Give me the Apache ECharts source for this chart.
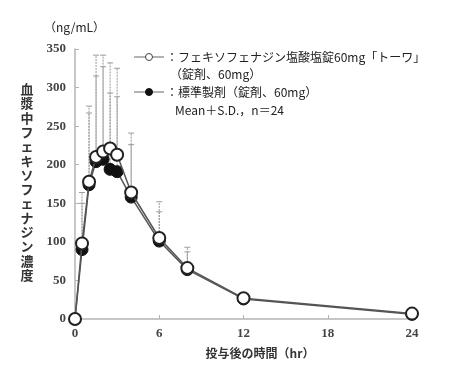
<!DOCTYPE html>
<html><head><meta charset="utf-8">
<script src="https://cdn.jsdelivr.net/npm/echarts@6/dist/echarts.min.js"></script>
<style>html,body{margin:0;padding:0;background:#fff}#c{width:471px;height:371px}</style>
</head><body><div id="c"></div>
<script>
const times    = [0, 0.5, 1, 1.5, 2, 2.5, 3, 4, 6, 8, 12, 24];
const testMean = [0, 98, 178, 210, 217, 221, 213, 164, 105, 66, 27, 7];
const testSD   = [0, 66, 98, 132, 125, 111, 112, 77, 47, 27, 0, 0];
const refMean  = [0, 90, 174, 204, 207, 194, 191, 158, 101, 64, 26, 6];
const refSD    = [0, 60, 93, 111, 120, 99, 97, 68, 38, 23, 0, 0];
const xTicks = [0, 6, 12, 18, 24];
const yTicks = [0, 50, 100, 150, 200, 250, 300, 350];

const jp = '"Noto Sans CJK JP", sans-serif';
const serif = '"Liberation Serif", "DejaVu Serif", serif';

function errData(m, s) { return times.map((t, i) => [t, m[i], s[i]]); }
function errRender(params, api) {
  const x = api.value(0), m = api.value(1), s = api.value(2);
  if (!s) return null;
  const p0 = api.coord([x, m]);
  const p1 = api.coord([x, m + s]);
  const st = { stroke: '#9a9a9a', lineWidth: 1, lineDash: [2, 1] };
  return { type: 'group', children: [
    { type: 'line', shape: { x1: p0[0], y1: p0[1], x2: p1[0], y2: p1[1] }, style: st },
    { type: 'line', shape: { x1: p1[0] - 3, y1: p1[1], x2: p1[0] + 3, y2: p1[1] }, style: { stroke: '#9a9a9a', lineWidth: 1 } }
  ]};
}

const chart = echarts.init(document.getElementById('c'));
chart.setOption({
  animation: false,
  grid: { left: 75, right: 59, top: 49, bottom: 52 },
  xAxis: {
    type: 'value', min: 0, max: 24, interval: 6,
    axisLine: { lineStyle: { color: '#b5b5b5', width: 1.5 } },
    axisTick: { inside: true, length: 4, lineStyle: { color: '#b5b5b5' } },
    axisLabel: { fontFamily: serif, fontSize: 13, fontWeight: 'bold', color: '#444', margin: 8,
      customValues: xTicks },
    splitLine: { show: false }
  },
  yAxis: {
    type: 'value', min: 0, max: 350, interval: 50,
    axisLine: { show: true, lineStyle: { color: '#b5b5b5', width: 1.5 } },
    axisTick: { show: true, inside: true, length: 4, lineStyle: { color: '#b5b5b5' } },
    axisLabel: { fontFamily: serif, fontSize: 13, fontWeight: 'bold', color: '#444', margin: 9 },
    splitLine: { show: false }
  },
  graphic: [
    { type: 'text', left: 44, top: 21, style: { text: '（ng/mL）', font: '12px ' + jp, fill: '#222' } },
    { type: 'text', x: 27, y: 82, style: { text: '血漿中フェキソフェナジン濃度'.split('').join('\n'), font: 'bold 13px ' + jp, fill: '#333', align: 'center', lineHeight: 14.3 } },
    { type: 'text', x: 260, y: 353, style: { text: '投与後の時間（hr）', font: 'bold 12px ' + jp, fill: '#333', align: 'center', verticalAlign: 'middle' } },
    { type: 'line', shape: { x1: 134, y1: 57, x2: 164, y2: 57 }, style: { stroke: '#666', lineWidth: 1 } },
    { type: 'circle', shape: { cx: 149, cy: 57, r: 3.5 }, style: { fill: '#fff', stroke: '#444', lineWidth: 1 } },
    { type: 'text', x: 166, y: 57, style: { text: '：フェキソフェナジン塩酸塩錠60mg「トーワ」', font: '12px ' + jp, fill: '#222', verticalAlign: 'middle' } },
    { type: 'text', x: 170, y: 74, style: { text: '（錠剤、60mg）', font: '12px ' + jp, fill: '#222', verticalAlign: 'middle' } },
    { type: 'line', shape: { x1: 134, y1: 92, x2: 164, y2: 92 }, style: { stroke: '#666', lineWidth: 1 } },
    { type: 'circle', shape: { cx: 149, cy: 92, r: 3.5 }, style: { fill: '#111', stroke: '#111', lineWidth: 1 } },
    { type: 'text', x: 166, y: 92, style: { text: '：標準製剤（錠剤、60mg）', font: '12px ' + jp, fill: '#222', verticalAlign: 'middle' } },
    { type: 'text', x: 175, y: 110, style: { text: 'Mean＋S.D.，n＝24', font: '12px ' + jp, fill: '#222', verticalAlign: 'middle' } }
  ],
  series: [
    { type: 'custom', renderItem: errRender, data: errData(refMean, refSD), z: 1, silent: true },
    { type: 'custom', renderItem: errRender, data: errData(testMean, testSD), z: 1, silent: true },
    { type: 'line', data: times.map((t, i) => [t, refMean[i]]), z: 3,
      lineStyle: { color: '#555', width: 1.5 }, symbol: 'circle', symbolSize: 12,
      itemStyle: { color: '#111', borderColor: '#111', borderWidth: 1 } },
    { type: 'line', data: times.map((t, i) => [t, testMean[i]]), z: 4,
      lineStyle: { color: '#555', width: 1.5 }, symbol: 'circle', symbolSize: 12,
      itemStyle: { color: '#fff', borderColor: '#222', borderWidth: 2 } }
  ]
});
</script></body></html>
